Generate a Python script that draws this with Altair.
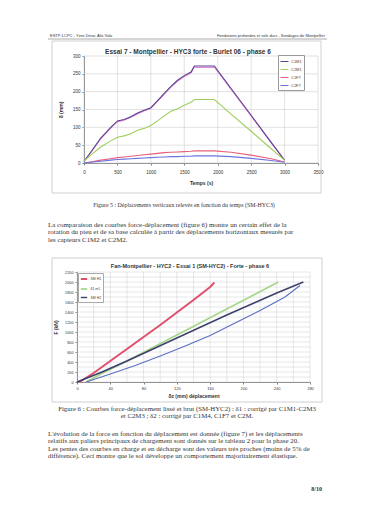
import altair as alt
import pandas as pd

W, H = 358, 492
SANS = "Liberation Sans"
SERIF = "Liberation Serif"

# ---------------- Figure 5 : displacement vs time ----------------
t_s = [0, 100, 250, 400, 500, 600, 700, 800, 900, 1000, 1100, 1200, 1300,
       1400, 1500, 1600, 1650, 1950, 2200, 2500, 2800, 3000]
c1m1 = [5, 30, 70, 100, 118, 122, 130, 140, 148, 155, 175, 195, 215,
        232, 245, 255, 272, 272, 209, 134, 58, 8]
c1m1_pink = [4, 28, 67, 97, 115, 120, 128, 137, 146, 153, 172, 192, 212,
             229, 242, 252, 268, 268, 206, 131, 56, 7]
c2m1 = [5, 22, 45, 62, 72, 76, 82, 92, 97, 105, 118, 132, 145,
        152, 162, 170, 178, 178, 137, 89, 40, 8]
c1f7 = [0, 3, 8, 12, 15, 17, 19, 21, 23, 25, 27, 29, 30,
        31, 32, 33, 34, 34, 30, 22, 12, 3]
c2f7 = [0, 2, 5, 8, 10, 11, 12, 13, 14, 15, 16, 17, 18,
        18, 19, 19, 20, 20, 18, 13, 7, 2]
series1 = ["C1M1", "C2M1", "C1F7", "C2F7"]
colors1 = ["#5b3f8c", "#9fcf5a", "#e8607a", "#6b74e0"]
x1_ticks = [0, 500, 1000, 1500, 2000, 2500, 3000, 3500]
y1_ticks = [0, 50, 100, 150, 200, 250, 300]

# ---------------- Figure 6 : force vs displacement ----------------
red_x = [3, 20, 40, 60, 80, 100, 120, 140, 160, 165]
red_f = [0, 180, 420, 660, 900, 1140, 1390, 1640, 1900, 1990]
green_x = [11, 30, 60, 90, 120, 150, 180, 210, 242]
green_f = [0, 170, 420, 680, 940, 1200, 1460, 1720, 2000]
navy_x = [0, 30, 60, 90, 120, 150, 180, 210, 240, 272]
navy_f = [0, 200, 420, 650, 880, 1110, 1340, 1560, 1780, 2000]
blue_x = [11, 40, 70, 100, 130, 160, 190, 220, 250, 268]
blue_f = [0, 160, 330, 520, 720, 930, 1180, 1430, 1700, 1930]
series2 = ["SM H1", "δ1 m1", "SM H2", "δ2 m2"]
colors2 = ["#e0506e", "#a6d68a", "#3b3f6b", "#5a6fc4"]
x2_ticks = list(range(0, 281, 20))
y2_ticks = list(range(0, 2201, 100))

# ---------------- page texts ----------------
header_left = "ESTP-LCPC - Yves Dinar, Alix Valo"
header_right = "Fondations profondes et sols durs - Sondages de Montpellier"
title1 = "Essai 7 - Montpellier - HYC3 forte - Burlet 06 - phase 6"
title2 = "Fan-Montpellier - HYC2 - Essai 1 (SM-HYC2) - Forte - phase 6"
caption1 = "Figure 5 : Déplacements verticaux relevés en fonction du temps (SM-HYC3)"
para1 = [
    "La comparaison des courbes force-déplacement (figure 6) montre un certain effet de la",
    "rotation du pieu et de sa base calculée à partir des déplacements horizontaux mesurés par",
    "les capteurs C1M2 et C2M2.",
]
caption2 = [
    "Figure 6 : Courbes force-déplacement lissé et brut (SM-HYC2) : δ1 : corrigé par C1M1-C2M3",
    "et C2M3 ; δ2 : corrigé par C1M4, C1F7 et C2M.",
]
para2 = [
    "L'évolution de la force en fonction du déplacement est donnée (figure 7) et les déplacements",
    "relatifs aux paliers principaux de chargement sont donnés sur le tableau 2 pour la phase 20.",
    "Les pentes des courbes en charge et en décharge sont des valeurs très proches (moins de 5% de",
    "différence). Ceci montre que le sol développe un comportement majoritairement élastique.",
]
page_num = "8/10"

one = pd.DataFrame({"a": [0]})
GRID = "#cfcfcf"
AXC = "#808080"


def axis(orient, offset, values, title, tpad, fs=4.5, lpad=2):
    return alt.Axis(orient=orient, offset=offset, values=values, format="d",
                    grid=False, labelFontSize=fs, labelFont=SANS,
                    labelColor="#333", tickSize=2, tickColor=AXC,
                    domainColor=AXC, labelPadding=lpad, labelFlush=False,
                    labelOverlap=False, title=title, titleFont=SANS,
                    titleFontSize=5, titleFontWeight="bold",
                    titleColor="#333", titlePadding=tpad)


# ---- chart 1 ----
df1 = pd.concat([pd.DataFrame({"t": t_s, "v": v, "s": s})
                 for s, v in zip(series1, [c1m1, c2m1, c1f7, c2f7])])
dfp = pd.DataFrame({"t": t_s, "v": c1m1_pink})
sx1 = alt.Scale(domain=[0, 3500], range=[76, 310], nice=False, zero=False)
sy1 = alt.Scale(domain=[0, 300], range=[155, 48], nice=False, zero=False)

vgrid1 = alt.Chart(pd.DataFrame({"t": x1_ticks})).mark_rule(
    color=GRID, strokeWidth=0.6).encode(
    x=alt.X("t:Q", scale=sx1), y=alt.datum(0), y2=alt.datum(300))
hgrid1 = alt.Chart(pd.DataFrame({"v": y1_ticks})).mark_rule(
    color=GRID, strokeWidth=0.6).encode(
    y=alt.Y("v:Q", scale=sy1), x=alt.datum(0), x2=alt.datum(3500))
pink1 = alt.Chart(dfp).mark_line(color="#e27ad6", strokeWidth=1).encode(
    x=alt.X("t:Q", scale=sx1), y=alt.Y("v:Q", scale=sy1))
lines1 = alt.Chart(df1).mark_line(strokeWidth=1.1).encode(
    x=alt.X("t:Q", scale=sx1,
            axis=axis("bottom", 155 - H, x1_ticks, "Temps (s)", 7, lpad=4)),
    y=alt.Y("v:Q", scale=sy1, axis=axis("left", -76, y1_ticks, "δ (mm)", 9)),
    color=alt.Color("s:N", scale=alt.Scale(domain=series1, range=colors1),
                    legend=alt.Legend(orient="none", legendX=270, legendY=47,
                                      title=None, symbolType="stroke",
                                      symbolSize=64, symbolStrokeWidth=1,
                                      labelFontSize=4, labelFont=SANS,
                                      labelColor="#444", fillColor="white",
                                      strokeColor="#999", padding=2,
                                      rowPadding=1, labelOffset=2)),
    detail="s:N")
chart1 = alt.layer(vgrid1, hgrid1, pink1, lines1)

# ---- chart 2 ----
df2 = pd.concat([pd.DataFrame({"d": x, "f": f, "s": s}) for s, x, f in
                 zip(series2, [red_x, green_x, navy_x, blue_x],
                     [red_f, green_f, navy_f, blue_f])])
sx2 = alt.Scale(domain=[0, 280], range=[69, 302], nice=False, zero=False)
sy2 = alt.Scale(domain=[0, 2200], range=[374, 264], nice=False, zero=False)

vgrid2 = alt.Chart(pd.DataFrame({"d": x2_ticks})).mark_rule(
    color=GRID, strokeWidth=0.5).encode(
    x=alt.X("d:Q", scale=sx2), y=alt.datum(0), y2=alt.datum(2200))
hgrid2 = alt.Chart(pd.DataFrame({"f": y2_ticks})).mark_rule(
    color=GRID, strokeWidth=0.5).encode(
    y=alt.Y("f:Q", scale=sy2), x=alt.datum(0), x2=alt.datum(280))
lines2 = alt.Chart(df2).mark_line().encode(
    x=alt.X("d:Q", scale=sx2,
            axis=axis("bottom", 374 - H, x2_ticks, "δz (mm) déplacement", 3, 4)),
    y=alt.Y("f:Q", scale=sy2, axis=axis("left", -69, y2_ticks, "F (kN)", 6, 3.8)),
    color=alt.Color("s:N", scale=alt.Scale(domain=series2, range=colors2),
                    legend=alt.Legend(orient="none", legendX=70, legendY=265,
                                      values=series2[:3],
                                      title=None, symbolType="stroke",
                                      symbolSize=40, symbolStrokeWidth=1,
                                      labelFontSize=3.5, labelFont=SANS,
                                      labelColor="#444", fillColor="white",
                                      strokeColor="#aaa", padding=1.5,
                                      rowPadding=1, labelOffset=2)),
    strokeWidth=alt.StrokeWidth("s:N", scale=alt.Scale(domain=series2,
                                range=[2, 1.1, 1.1, 1.1]), legend=None),
    detail="s:N")
chart2 = alt.layer(vgrid2, hgrid2, lines2)


# ---- page decoration & text ----
def frame(x1, x2, y1, y2):
    return alt.Chart(one).mark_rect(filled=False, stroke="#c4c4c4",
                                    strokeWidth=0.8).encode(
        x=alt.value(x1), x2=alt.value(x2), y=alt.value(y1), y2=alt.value(y2))


def txt(text, x, y, size, font=SERIF, align="left", baseline="middle",
        weight="normal", lh=7.5, color="#333", angle=0):
    return alt.Chart(one).mark_text(font=font, fontSize=size, align=align,
                                    baseline=baseline, fontWeight=weight,
                                    lineHeight=lh, color=color,
                                    angle=angle).encode(
        x=alt.value(x), y=alt.value(y), text=alt.value(text))


header_rule = alt.Chart(one).mark_rule(color="#555", strokeWidth=0.5).encode(
    x=alt.value(40), x2=alt.value(319), y=alt.value(31))

layers = [
    frame(44, 313, 33, 185),
    frame(44, 314, 250, 394),
    header_rule,
    txt(header_left, 42, 27.5, 4, font=SANS),
    txt(header_right, 317, 27.5, 4, font=SANS, align="right"),
    chart1,
    chart2,
    txt(title1, 180, 43.5, 6.5, font=SANS, align="center", weight="bold"),
    txt(title2, 182, 258, 5.5, font=SANS, align="center", weight="bold"),
    txt(caption1, 176, 197, 5.9, align="center"),
    txt(para1, 40, 213.5, 6.9, baseline="top"),
    txt(caption2, 179, 398, 6.8, align="center", baseline="top", lh=7.2),
    txt(para2, 40, 422.5, 6.9, baseline="top"),
    txt(page_num, 314, 481, 6, align="right", weight="bold"),
]

chart = alt.layer(*layers).resolve_scale(
    x="independent", y="independent", color="independent",
    strokeWidth="independent"
).properties(
    width=W, height=H, padding=0, autosize=alt.AutoSizeParams(type="none"),
    background="white"
).configure_view(stroke=None)

chart.save("out.html", embed_options={"renderer": "svg", "actions": False})
